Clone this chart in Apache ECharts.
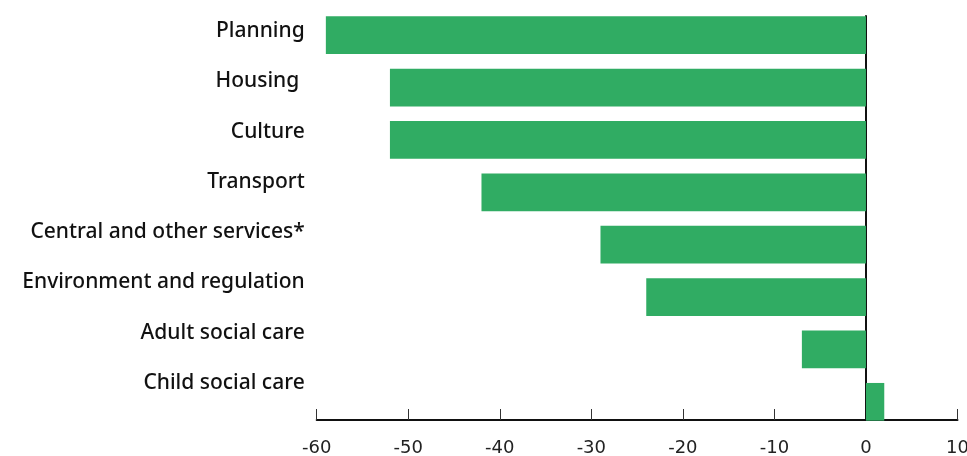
<!DOCTYPE html>
<html><head><meta charset="utf-8">
<script src="https://cdn.jsdelivr.net/npm/echarts@6/dist/echarts.min.js"></script>
<style>html,body{margin:0;padding:0;background:#fff}#c{width:967px;height:456px}</style>
</head><body><div id="c"></div>
<script>
const categories = ["Planning","Housing ","Culture","Transport","Central and other services*","Environment and regulation","Adult social care","Child social care"];
const values = [-59,-52,-52,-42,-29,-24,-7,2];
const tickMin = -60, tickMax = 10, tickStep = 10;

const L = 316.7, R = 9.5;
const chart = echarts.init(document.getElementById('c'));
chart.setOption({
  animation:false,
  grid:[
    {left:L,right:R,top:9,height:419,outerBoundsMode:'none',containLabel:false},
    {left:L,right:R,top:16,height:404,outerBoundsMode:'none',containLabel:false},
    {left:L,right:R,top:6,height:402,outerBoundsMode:'none',containLabel:false}
  ],
  xAxis:[
    {gridIndex:0,type:'value',min:tickMin,max:tickMax,interval:tickStep,show:false},
    {gridIndex:1,type:'value',min:tickMin,max:tickMax,interval:tickStep,
     axisLine:{show:true,onZero:false,lineStyle:{color:'#111',width:2}},
     axisTick:{show:true,inside:true,length:11,lineStyle:{color:'#333',width:1}},
     axisLabel:{margin:19,fontFamily:'DejaVu Sans',fontSize:18,color:'#222'},
     splitLine:{show:false}},
    {gridIndex:2,type:'value',min:tickMin,max:tickMax,show:false}
  ],
  yAxis:[
    {gridIndex:0,type:'category',data:categories,inverse:true,show:false},
    {gridIndex:1,type:'category',data:categories,inverse:true,
     axisLine:{show:true,onZero:true,lineStyle:{color:'#111',width:2}},
     axisTick:{show:false},axisLabel:{show:false}},
    {gridIndex:2,type:'category',data:categories,inverse:true,
     axisLine:{show:false},axisTick:{show:false},
     axisLabel:{margin:12,fontFamily:'Noto Sans',fontWeight:500,fontSize:21,color:'#111'}}
  ],
  series:[{
    type:'bar',xAxisIndex:0,yAxisIndex:0,data:values,barWidth:'72%',
    itemStyle:{color:'#30AC63'}
  }]
});
</script></body></html>
